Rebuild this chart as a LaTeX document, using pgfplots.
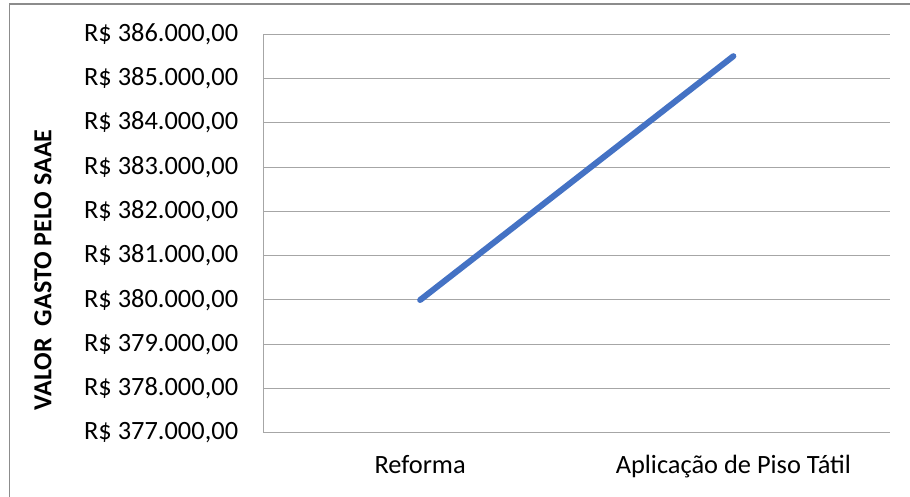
\documentclass[border=0pt]{standalone}
\usepackage{fontspec}
\setmainfont{Carlito}
\usepackage{pgfplots}
\pgfplotsset{compat=1.18}
\definecolor{lineblue}{HTML}{4472C4}
\definecolor{gridgray}{HTML}{A6A6A6}
\definecolor{framegray}{HTML}{8C8C8C}
\begin{document}
\begin{tikzpicture}
\path[use as bounding box] (0,0) rectangle (455pt,248.5pt);
\draw[framegray, line width=0.6pt] (4.75pt,0) -- (4.75pt,246.5pt) -- (455pt,246.5pt);
\begin{axis}[
  at={(131.75pt,32pt)}, anchor=south west,
  scale only axis, width=313.25pt, height=199.5pt,
  xmin=-0.5, xmax=1.5, ymin=377000, ymax=386000,
  axis x line=bottom, axis y line=left,
  axis line style={gridgray, line width=0.5pt, -},
  xtick={0,1},
  xticklabels={Reforma, Aplicação de Piso Tátil},
  ytick={377000,378000,...,386000},
  scaled y ticks=false,
  yticklabels={{R\$ 377.000,00},{R\$ 378.000,00},{R\$ 379.000,00},{R\$ 380.000,00},{R\$ 381.000,00},{R\$ 382.000,00},{R\$ 383.000,00},{R\$ 384.000,00},{R\$ 385.000,00},{R\$ 386.000,00}},
  major tick length=0pt,
  ymajorgrids, grid style={gridgray, line width=0.5pt},
  /pgf/number format/assume math mode=true,
  ticklabel style={font=\fontsize{13.2}{15.8}\selectfont, inner sep=0pt},
  yticklabel style={anchor=east, xshift=-12.5pt},
  xticklabel style={anchor=north, yshift=-11pt},
  clip=false,
]
\addplot[lineblue, line width=3pt, line cap=round] coordinates {(0,380000) (1,385500)};
\end{axis}
\node[rotate=90, font=\fontsize{13}{15.6}\selectfont\bfseries] at (21.5pt,113.5pt) {VALOR\ \ GASTO PELO SAAE};
\end{tikzpicture}
\end{document}
